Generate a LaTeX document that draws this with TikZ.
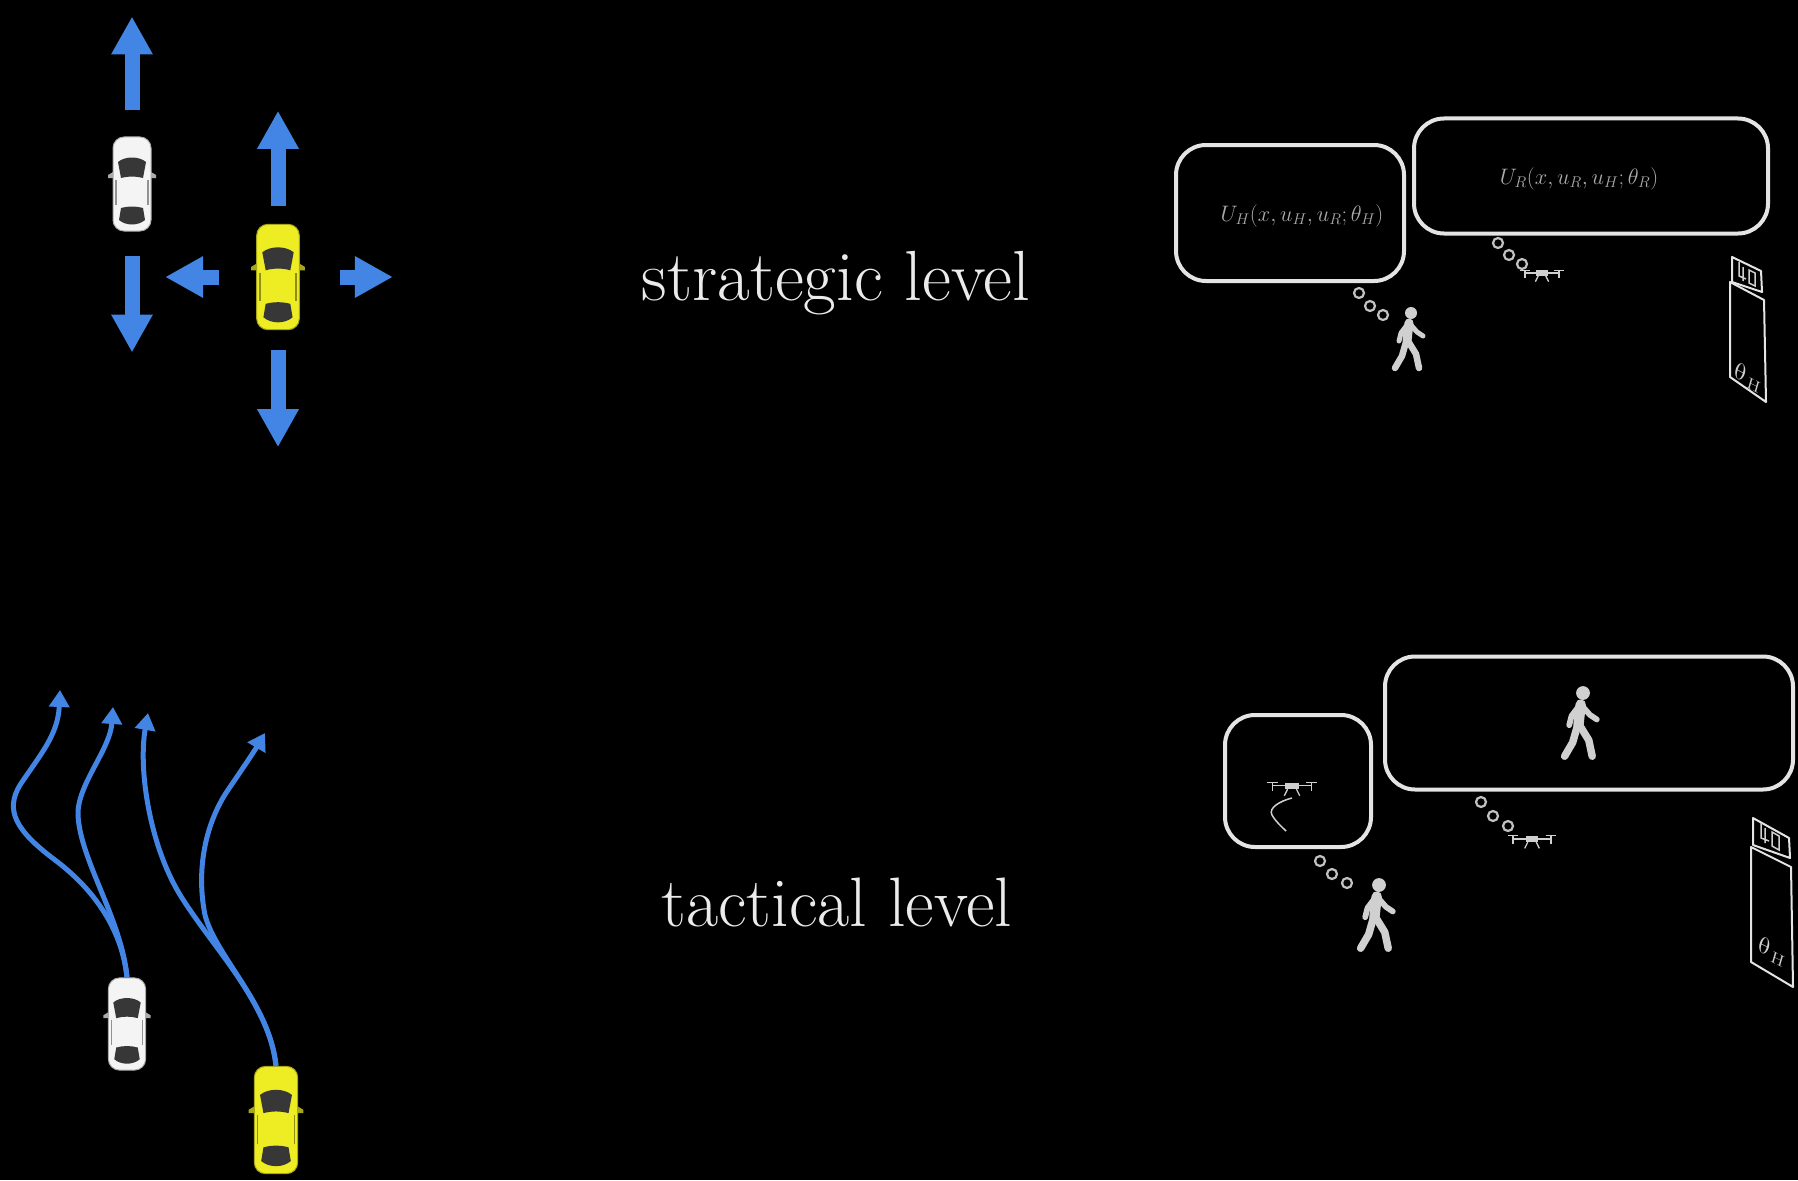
\documentclass[tikz,border=0pt]{standalone}
\usetikzlibrary{arrows.meta}

\definecolor{dirblue}{RGB}{66,133,228}
\definecolor{carwhite}{RGB}{244,244,244}
\definecolor{caryellow}{RGB}{238,236,34}
\definecolor{glass}{RGB}{55,55,55}
\definecolor{lightline}{RGB}{228,228,228}
\definecolor{mathgray}{RGB}{170,170,170}
\definecolor{figgray}{RGB}{208,208,208}

\tikzstyle{carbody} = [rectangle, rounded corners=11pt, minimum width=38pt, minimum height=94pt, inner sep=0pt, line width=1pt]
\tikzstyle{move} = [draw=dirblue, line width=15pt, -{Triangle[width=39pt,length=38pt]}]
\tikzstyle{traj} = [draw=dirblue, line width=5pt, -{Triangle[width=20pt,length=17pt]}]
\tikzstyle{level} = [text=white!92!black, font=\fontsize{71}{80}\selectfont, anchor=base]
\tikzstyle{bubble} = [rectangle, rounded corners=30pt, draw=lightline, line width=4pt, fill=black]
\tikzstyle{formula} = [text=mathgray, font=\fontsize{20.74}{24}\selectfont, scale=1.08, inner sep=0pt]
\tikzstyle{thought} = [circle, draw=lightline!85!black, line width=2.2pt, minimum size=10pt, inner sep=0pt]
\tikzstyle{panel} = [draw=lightline, line width=2pt, line join=round]
\tikzstyle{signtext} = [text=figgray, font=\fontsize{24}{26}\selectfont, yslant=-0.5, inner sep=0pt]
\tikzstyle{limb} = [draw=figgray, line cap=round, line join=round]

% car seen from above: name, position, body colour, scale
\newcommand{\drawcar}[4]{
  \begin{scope}[shift={(#2)}, scale=#4]
    \node (#1) [carbody, fill=#3, draw=#3!70!black, transform shape] at (0,0) {};
    \fill [#3!70!black] (-19,-12) -- (-24,-9) -- (-24,-6) -- (-19,-6) -- cycle;
    \fill [#3!70!black] (19,-12) -- (24,-9) -- (24,-6) -- (19,-6) -- cycle;
    \fill [glass] (-14,-22) .. controls (-7,-28) and (7,-28) .. (14,-22) -- (11,-6) .. controls (4,-8) and (-4,-8) .. (-11,-6) -- cycle;
    \fill [glass] (-11,24) .. controls (-4,22) and (4,22) .. (11,24) -- (13,36) .. controls (6,42) and (-6,42) .. (-13,36) -- cycle;
    \draw [#3!60!black, line width=1.2pt] (-16,-4) -- (-16,21) (16,-4) -- (16,21);
  \end{scope}
}

% walking person: name, head position, scale
\newcommand{\walker}[3]{
  \begin{scope}[shift={(#2)}, scale=#3]
    \coordinate (#1) at (0,0);
    \fill [figgray] (0,0) circle (6);
    \draw [limb, line width=#3*9pt] (-2,10) -- (-4,28);
    \draw [limb, line width=#3*5pt] (-1,11) -- (6,19) -- (12,23);
    \draw [limb, line width=#3*5pt] (-4,12) -- (-10,20) -- (-12,28);
    \draw [limb, line width=#3*6.5pt] (-3,28) -- (5,41) -- (8,55);
    \draw [limb, line width=#3*6.5pt] (-5,29) -- (-9,43) -- (-16,55);
  \end{scope}
}

% quadcopter, side view: name, position, scale
\newcommand{\drone}[3]{
  \begin{scope}[shift={(#2)}, scale=#3, figgray, line width=1.3pt]
    \coordinate (#1) at (0,0);
    \draw (-18,-2) -- (18,-2);
    \draw (-23,-5) -- (-13,-5) (13,-5) -- (23,-5);
    \draw (-18,-5) -- (-18,3) (18,-5) -- (18,3);
    \fill (-6,-5) rectangle (6,1);
    \draw (-4,1) -- (-7,7) (4,1) -- (7,7);
  \end{scope}
}

\begin{document}
\begin{tikzpicture}[x=1pt, y=-1pt]
    \fill [black] (0,0) rectangle (1798,1180);
    \useasboundingbox (0,0) rectangle (1798,1180);

    % strategic level
    \drawcar{wcar}{132,184}{carwhite}{1}
    \drawcar{ycar}{278,277}{caryellow}{1.12}

    \draw [move] (wcar.north) ++(0,-26) -- ++(0,-94);
    \draw [move] (wcar.south) ++(0,24) -- ++(0,97);
    \draw [move] (ycar.north) ++(0,-18) -- ++(0,-95);
    \draw [move] (ycar.south) ++(0,20) -- ++(0,97);
    \draw [move] (ycar.west) ++(-37,0) -- ++(-54,0);
    \draw [move] (ycar.east) ++(40,0) -- ++(53,0);

    \node (strategic) [level] at (836,300) {strategic level};

    \node (uh) [bubble, minimum width=228pt, minimum height=136pt] at (1290,213) {};
    \node (ur) [bubble, minimum width=354pt, minimum height=115pt] at (1591,176) {};
    \node (uhlabel) [formula] at (1302,216) {$U_H(x, u_H, u_R; \theta_H)$};
    \node (urlabel) [formula] at (1579,179) {$U_R(x, u_R, u_H; \theta_R)$};

    \node (uhdot1) [thought] at (1359,293) {};
    \node (uhdot2) [thought] at (1370,306) {};
    \node (uhdot3) [thought] at (1383,315) {};
    \node (urdot1) [thought] at (1498,243) {};
    \node (urdot2) [thought] at (1509,255) {};
    \node (urdot3) [thought] at (1522,264) {};

    \walker{human}{1411,313}{1}
    \drone{robot}{1542,275}{0.95}

    \draw [panel] (1732,257) -- (1761,271) -- (1762,292) -- (1732,282) -- cycle;
    \draw [panel] (1730,282) -- (1764,300) -- (1766,402) -- (1730,377) -- cycle;
    \draw [figgray, line width=1.5pt] (1739,262) -- (1739,276) -- (1746,279) (1743,267) -- (1743,281)
        (1749,270) -- (1755,273) -- (1755,286) -- (1749,283) -- cycle;
    \node (thetatop) [signtext] at (1748,378) {$\theta_H$};

    % tactical level
    \drawcar{wcar2}{127,1024}{carwhite}{0.98}
    \drawcar{ycar2}{276,1120}{caryellow}{1.14}

    \coordinate (goal1) at (60,690);
    \coordinate (goal2) at (113,707);
    \coordinate (goal3) at (148,713);
    \coordinate (goal4) at (265,733);

    \draw [traj] (wcar2.north) .. controls (122,930) and (95,890) .. (55,860) .. controls (15,830) and (5,810) .. (20,785) .. controls (40,755) and (58,735) .. (goal1);
    \draw [traj] (wcar2.north) .. controls (122,920) and (80,860) .. (78,815) .. controls (77,785) and (110,750) .. (goal2);
    \draw [traj] (ycar2.north) .. controls (270,1005) and (215,950) .. (182,898) .. controls (150,848) and (138,770) .. (goal3);
    \draw [traj] (ycar2.north) .. controls (270,1005) and (215,955) .. (205,915) .. controls (196,870) and (205,822) .. (230,787) .. controls (245,765) and (255,750) .. (goal4);

    \node (tactical) [level, font=\fontsize{70}{80}\selectfont] at (837,926) {tactical level};

    \node (plan) [bubble, minimum width=146pt, minimum height=132pt] at (1298,781) {};
    \node (goal) [bubble, minimum width=408pt, minimum height=133pt] at (1589,723) {};

    \drone{robotplan}{1292,788}{1.1}
    \draw [figgray, line width=1.5pt] (1292,798) .. controls (1280,801) and (1268,808) .. (1272,815) .. controls (1276,822) and (1281,826) .. (1286,831);
    \walker{humangoal}{1583,693}{1.15}

    \node (pdot1) [thought] at (1320,861) {};
    \node (pdot2) [thought] at (1332,874) {};
    \node (pdot3) [thought] at (1347,883) {};
    \node (gdot1) [thought] at (1481,802) {};
    \node (gdot2) [thought] at (1493,816) {};
    \node (gdot3) [thought] at (1508,826) {};

    \walker{human2}{1379,885}{1.15}
    \drone{robot2}{1532,841}{1.05}

    \draw [panel] (1753,818) -- (1789,838) -- (1790,858) -- (1753,845) -- cycle;
    \draw [panel] (1751,847) -- (1791,867) -- (1793,987) -- (1751,962) -- cycle;
    \draw [figgray, line width=1.5pt] (1761,823) -- (1761,838) -- (1769,841) (1765,828) -- (1765,843)
        (1772,832) -- (1779,836) -- (1779,850) -- (1772,846) -- cycle;
    \node (thetabot) [signtext] at (1772,952) {$\theta_H$};
\end{tikzpicture}
\end{document}
